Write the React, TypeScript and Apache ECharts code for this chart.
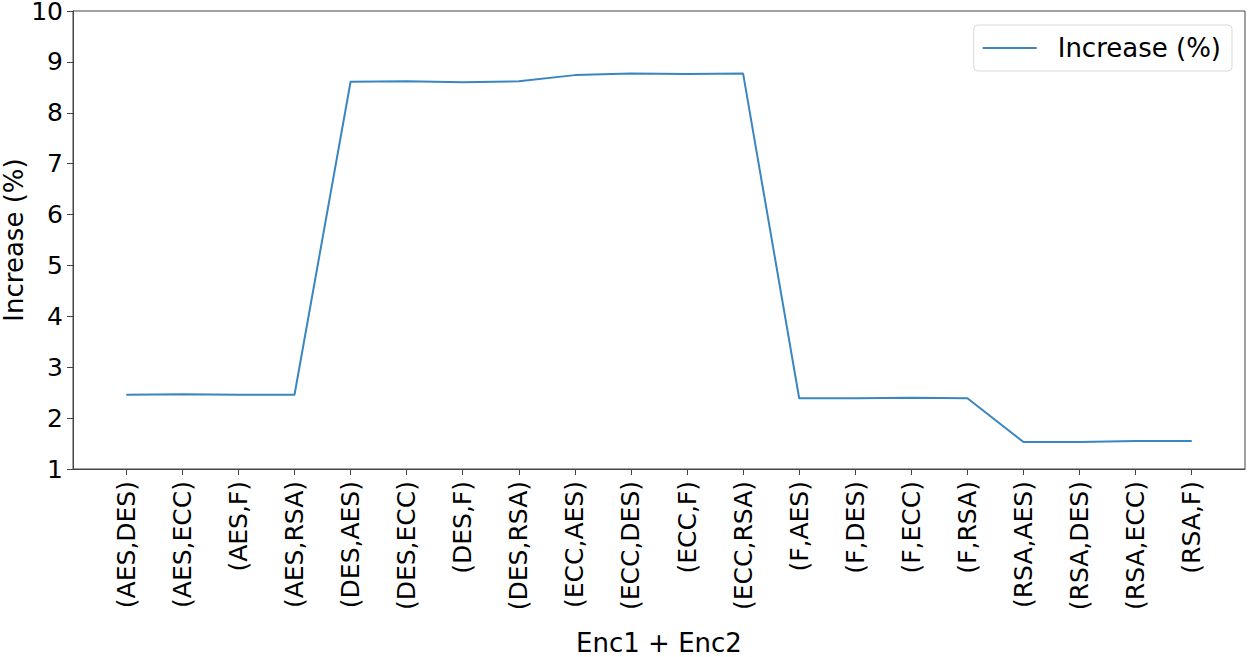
import React, { useEffect, useRef } from "react";
import * as echarts from "echarts";

const categories = [
  "(AES,DES)", "(AES,ECC)", "(AES,F)", "(AES,RSA)",
  "(DES,AES)", "(DES,ECC)", "(DES,F)", "(DES,RSA)",
  "(ECC,AES)", "(ECC,DES)", "(ECC,F)", "(ECC,RSA)",
  "(F,AES)", "(F,DES)", "(F,ECC)", "(F,RSA)",
  "(RSA,AES)", "(RSA,DES)", "(RSA,ECC)", "(RSA,F)",
];
const increase = [
  2.46, 2.47, 2.46, 2.46,
  8.61, 8.62, 8.60, 8.62,
  8.74, 8.77, 8.76, 8.77,
  2.39, 2.39, 2.40, 2.39,
  1.53, 1.53, 1.55, 1.55,
];
const yTicks = { min: 1, max: 10, interval: 1 };
const seriesName = "Increase (%)";
const xTitle = "Enc1 + Enc2";
const yTitle = "Increase (%)";

const FONT = "DejaVu Sans";
const FS_TICK = 25;
const FS_TITLE = 26;
const LINE_COLOR = "#3a86c0";
const AXIS_COLOR = "#444";

export default function App() {
  const ref = useRef<HTMLDivElement>(null);
  useEffect(() => {
    if (!ref.current) return;
    const chart = echarts.init(ref.current, undefined, { renderer: "svg" });
    const idx = categories.map((_, i) => i);
    const n = categories.length;
    const pad = (n - 1) * 0.05;
    chart.setOption({
      animation: false,
      backgroundColor: "#ffffff",
      textStyle: { fontFamily: FONT },
      legend: {
        right: 18,
        top: 25,
        orient: "vertical",
        padding: [8, 11, 8, 9],
        borderColor: "#d9d9d9",
        borderWidth: 1,
        borderRadius: 4,
        itemWidth: 54,
        itemHeight: 2,
        icon: "rect",
        textStyle: { fontFamily: FONT, fontSize: FS_TITLE, lineHeight: 30, color: "#000", padding: [0, 0, 0, 16] },
        data: [{ name: seriesName, itemStyle: { color: LINE_COLOR } }],
      },
      grid: {
        left: 73, right: 5, top: 11, bottom: 188,
        containLabel: false,
        outerBoundsMode: "none",
        show: true, borderColor: AXIS_COLOR, borderWidth: 1, backgroundColor: "transparent",
      },
      xAxis: {
        type: "value",
        min: -pad,
        max: n - 1 + pad,
        axisLine: { show: true, onZero: false, lineStyle: { color: AXIS_COLOR } },
        axisTick: { show: true, length: 6, customValues: idx, lineStyle: { color: AXIS_COLOR } },
        axisLabel: {
          customValues: idx,
          rotate: 90,
          fontFamily: FONT,
          fontSize: FS_TICK,
          color: "#000",
          margin: 12,
          formatter: (v: number) => categories[Math.round(v)] ?? "",
        },
        splitLine: { show: false },
        name: xTitle,
        nameLocation: "middle",
        nameGap: 161,
        nameMoveOverlap: false,
        nameTextStyle: { fontFamily: FONT, fontSize: FS_TITLE, lineHeight: 26, color: "#000" },
      },
      yAxis: {
        type: "value",
        min: yTicks.min,
        max: yTicks.max,
        interval: yTicks.interval,
        axisLine: { show: true, onZero: false, lineStyle: { color: AXIS_COLOR } },
        axisTick: { show: true, length: 6, lineStyle: { color: AXIS_COLOR } },
        axisLabel: { fontFamily: FONT, fontSize: FS_TICK, lineHeight: 18, color: "#000", margin: 10 },
        splitLine: { show: false },
        name: yTitle,
        nameLocation: "middle",
        nameGap: 46,
        nameRotate: 90,
        nameMoveOverlap: false,
        nameTextStyle: { fontFamily: FONT, fontSize: FS_TITLE, color: "#000" },
      },
      series: [
        {
          name: seriesName,
          type: "line",
          data: increase.map((v, i) => [i, v]),
          showSymbol: false,
          symbol: "none",
          lineStyle: { color: LINE_COLOR, width: 2 },
          itemStyle: { color: LINE_COLOR },
        },
      ],
    });
    return () => chart.dispose();
  }, []);
  return <div ref={ref} style={{ width: 1250, height: 657, position: "absolute", left: 0, top: 0 }} />;
}
